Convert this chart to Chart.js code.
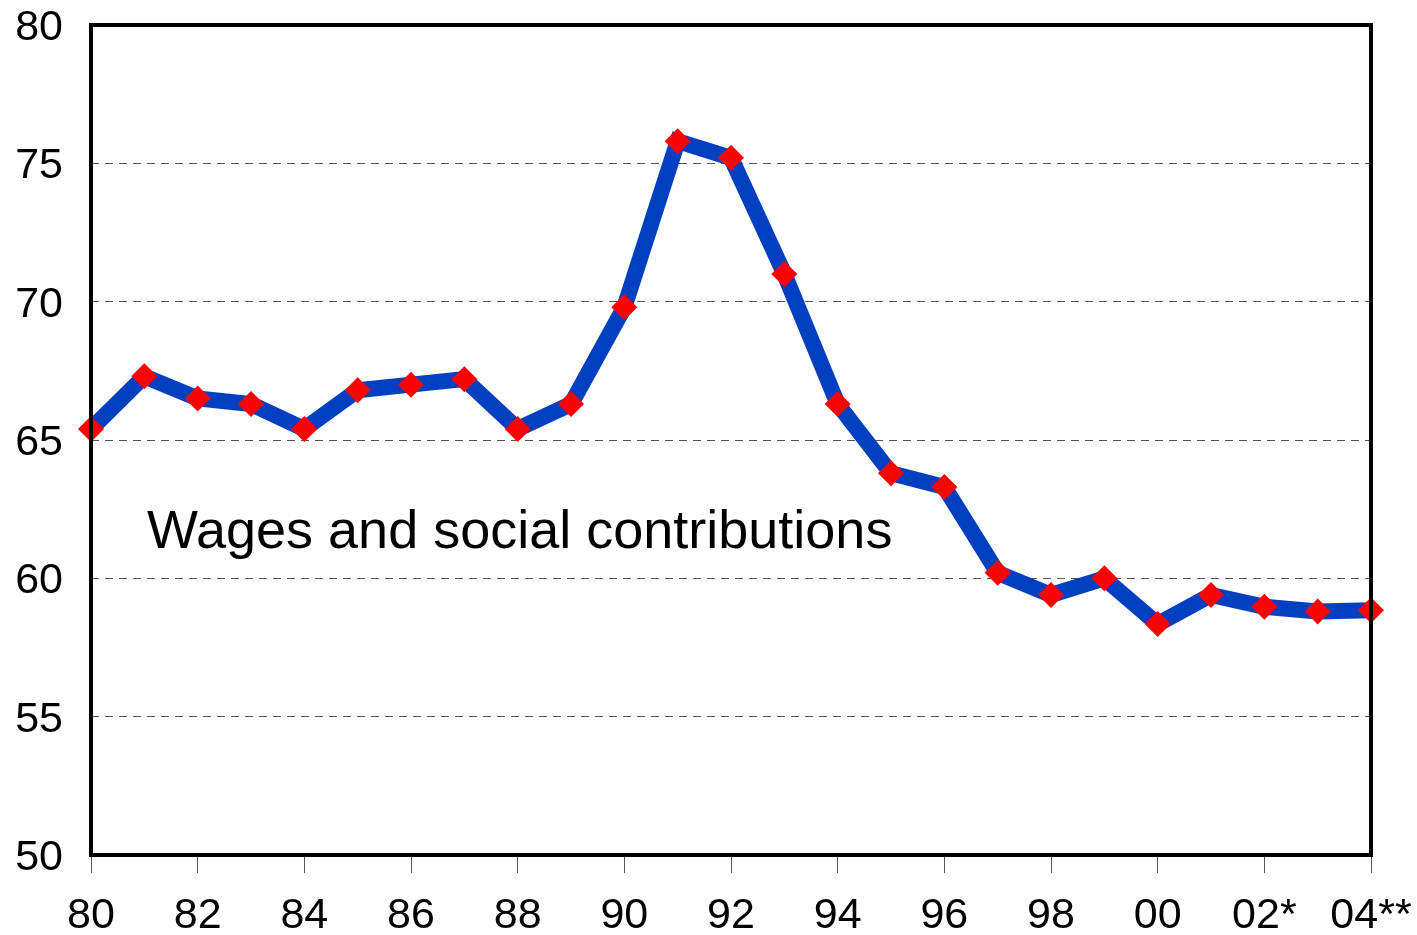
<!DOCTYPE html>
<html>
<head>
<meta charset="utf-8">
<script src="https://cdn.jsdelivr.net/npm/chart.js"></script>
<style>
  body { margin: 0; background: #fff; }
  #wrap { width: 1417px; height: 935px; position: relative; }
</style>
</head>
<body>
<div id="wrap"><canvas id="chart"></canvas></div>
<script>
'use strict';

var years = ['80', '81', '82', '83', '84', '85', '86', '87', '88', '89', '90', '91',
  '92', '93', '94', '95', '96', '97', '98', '99', '00', '01', '02*', '03', '04**'];
var wages = [65.4, 67.3, 66.5, 66.3, 65.4, 66.8, 67.0, 67.2, 65.4, 66.3, 69.8, 75.8,
  75.2, 71.0, 66.3, 63.8, 63.3, 60.2, 59.4, 60.0, 58.35, 59.4, 58.97, 58.8, 58.85];
var seriesLabel = 'Wages and social contributions';
var yMin = 50;
var yMax = 80;
var yStep = 5;

var fontName = '"Liberation Sans", Arial, Helvetica, sans-serif';

// frame round the plot area plus the text label inside it
var framePlugin = {
  id: 'frame',
  afterDraw: function (chart) {
    var ctx = chart.ctx;
    var a = chart.chartArea;
    var xs = chart.scales.x;
    var ys = chart.scales.y;
    ctx.save();
    ctx.strokeStyle = '#000';
    ctx.lineWidth = 4;
    ctx.strokeRect(a.left, a.top, a.right - a.left, a.bottom - a.top);
    ctx.fillStyle = '#000';
    ctx.font = '54px ' + fontName;
    ctx.textBaseline = 'alphabetic';
    ctx.textAlign = 'left';
    ctx.fillText(seriesLabel, xs.getPixelForValue(1.05), ys.getPixelForValue(61.1));
    ctx.restore();
  }
};

var ctx = document.getElementById('chart').getContext('2d');

new Chart(ctx, {
  type: 'line',
  data: {
    labels: years,
    datasets: [
      {
        label: seriesLabel,
        data: wages,
        borderColor: '#0040c0',
        borderWidth: 16,
        borderJoinStyle: 'miter',
        pointStyle: 'rectRot',
        pointRadius: 13,
        pointBackgroundColor: '#ff0000',
        pointBorderColor: '#ff0000',
        pointBorderWidth: 0,
        tension: 0,
        clip: false,
      },
    ],
  },
  options: {
    responsive: true,
    maintainAspectRatio: false,
    animation: false,
    layout: { padding: { top: 25, right: 46, left: 0, bottom: 0 } },
    plugins: {
      legend: { display: false },
      tooltip: { enabled: false },
    },
    scales: {
      x: {
        offset: false,
        grid: {
          drawOnChartArea: false,
          drawTicks: true,
          tickLength: 18,
          tickColor: '#555',
          tickWidth: 1,
        },
        border: { display: false },
        ticks: {
          autoSkip: false,
          maxRotation: 0,
          padding: 17,
          color: '#000',
          font: { family: fontName, size: 43 },
          callback: function (value, index) {
            return index % 2 === 0 ? years[index] : null;
          },
        },
        afterFit: function (scale) {
          scale.height = 80;
          scale.paddingLeft = 0;
          scale.paddingRight = 0;
        },
      },
      y: {
        min: yMin,
        max: yMax,
        grid: {
          drawTicks: false,
          color: function (c) {
            return (c.tick.value === yMin || c.tick.value === yMax) ? 'rgba(0,0,0,0)' : '#555';
          },
          lineWidth: 1,
        },
        border: { display: false, dash: [8, 6] },
        ticks: {
          stepSize: yStep,
          padding: 28,
          labelOffset: 3,
          color: '#000',
          font: { family: fontName, size: 43 },
        },
        afterFit: function (scale) {
          scale.width = 91;
          scale.paddingTop = 0;
          scale.paddingBottom = 0;
        },
      },
    },
  },
  plugins: [framePlugin],
});
</script>
</body>
</html>
